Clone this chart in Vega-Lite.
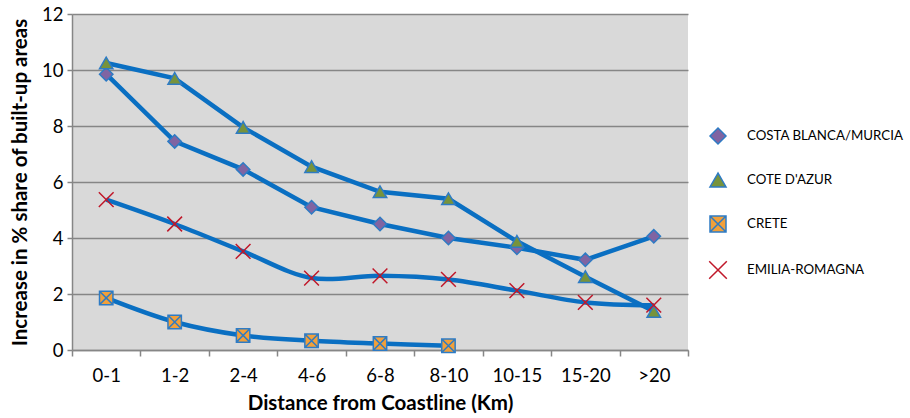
{
  "$schema": "https://vega.github.io/schema/vega-lite/v6.json",
  "width": 616,
  "height": 336,
  "autosize": {"type": "none"},
  "padding": {"left": 72, "top": 14, "right": 222, "bottom": 68},
  "background": "white",
  "config": {
    "view": {"fill": "#D9D9D9", "stroke": null},
    "font": "Lato",
    "axis": {"domainColor": "#868686", "tickColor": "#868686", "labelColor": "#000000", "titleColor": "#000000", "labelFont": "Lato", "titleFont": "Lato"},
    "legend": {
      "orient": "none",
      "legendX": 637,
      "legendY": 113,
      "symbolSize": 256,
      "labelOffset": 20,
      "rowPadding": 23,
      "labelFontSize": 13.3,
      "labelFont": "Lato",
      "labelColor": "#000000",
      "labelLimit": 300
    }
  },
  "data": {
    "values": [
      {"series": "COSTA BLANCA/MURCIA", "dist": "0-1", "value": 9.85},
      {"series": "COSTA BLANCA/MURCIA", "dist": "1-2", "value": 7.45},
      {"series": "COSTA BLANCA/MURCIA", "dist": "2-4", "value": 6.45},
      {"series": "COSTA BLANCA/MURCIA", "dist": "4-6", "value": 5.1},
      {"series": "COSTA BLANCA/MURCIA", "dist": "6-8", "value": 4.5},
      {"series": "COSTA BLANCA/MURCIA", "dist": "8-10", "value": 4.0},
      {"series": "COSTA BLANCA/MURCIA", "dist": "10-15", "value": 3.65},
      {"series": "COSTA BLANCA/MURCIA", "dist": "15-20", "value": 3.22},
      {"series": "COSTA BLANCA/MURCIA", "dist": ">20", "value": 4.06},
      {"series": "COTE D'AZUR", "dist": "0-1", "value": 10.25},
      {"series": "COTE D'AZUR", "dist": "1-2", "value": 9.7},
      {"series": "COTE D'AZUR", "dist": "2-4", "value": 7.95},
      {"series": "COTE D'AZUR", "dist": "4-6", "value": 6.55},
      {"series": "COTE D'AZUR", "dist": "6-8", "value": 5.65},
      {"series": "COTE D'AZUR", "dist": "8-10", "value": 5.4},
      {"series": "COTE D'AZUR", "dist": "10-15", "value": 3.88},
      {"series": "COTE D'AZUR", "dist": "15-20", "value": 2.62},
      {"series": "COTE D'AZUR", "dist": ">20", "value": 1.38},
      {"series": "CRETE", "dist": "0-1", "value": 1.86},
      {"series": "CRETE", "dist": "1-2", "value": 1.0},
      {"series": "CRETE", "dist": "2-4", "value": 0.52},
      {"series": "CRETE", "dist": "4-6", "value": 0.33},
      {"series": "CRETE", "dist": "6-8", "value": 0.23},
      {"series": "CRETE", "dist": "8-10", "value": 0.15},
      {"series": "EMILIA-ROMAGNA", "dist": "0-1", "value": 5.37},
      {"series": "EMILIA-ROMAGNA", "dist": "1-2", "value": 4.5},
      {"series": "EMILIA-ROMAGNA", "dist": "2-4", "value": 3.52},
      {"series": "EMILIA-ROMAGNA", "dist": "4-6", "value": 2.57},
      {"series": "EMILIA-ROMAGNA", "dist": "6-8", "value": 2.65},
      {"series": "EMILIA-ROMAGNA", "dist": "8-10", "value": 2.52},
      {"series": "EMILIA-ROMAGNA", "dist": "10-15", "value": 2.12},
      {"series": "EMILIA-ROMAGNA", "dist": "15-20", "value": 1.7},
      {"series": "EMILIA-ROMAGNA", "dist": ">20", "value": 1.6}
    ]
  },
  "encoding": {
    "x": {
      "field": "dist",
      "type": "ordinal",
      "scale": {"domain": ["0-1", "1-2", "2-4", "4-6", "6-8", "8-10", "10-15", "15-20", ">20"], "paddingInner": 0, "paddingOuter": 0},
      "axis": {
        "title": "Distance from Coastline (Km)",
        "titleFontSize": 20.5,
        "titleFontWeight": "bold",
        "titlePadding": 9,
        "labelFontSize": 18.5,
        "labelAngle": 0,
        "labelPadding": 10,
        "tickBand": "extent",
        "tickSize": 6,
        "tickWidth": 1.5,
        "domainWidth": 1.5,
        "grid": false
      }
    },
    "y": {
      "field": "value",
      "type": "quantitative",
      "scale": {"domain": [0, 12], "nice": false},
      "axis": {
        "title": "Increase in % share of built-up areas",
        "titleFontSize": 20.5,
        "titleFontWeight": "bold",
        "titlePadding": 11,
        "labelFontSize": 18.5,
        "labelPadding": 4,
        "values": [0, 2, 4, 6, 8, 10, 12],
        "tickSize": 5,
        "tickWidth": 1.5,
        "domainWidth": 1.5,
        "grid": true,
        "gridColor": "#868686",
        "gridWidth": 1.5
      }
    }
  },
  "layer": [
    {
      "transform": [{"filter": "datum.series == 'COSTA BLANCA/MURCIA' || datum.series == \"COTE D'AZUR\""}],
      "mark": {"type": "line", "interpolate": "linear", "color": "#0A6FC2", "strokeWidth": 4.5},
      "encoding": {"detail": {"field": "series"}}
    },
    {
      "transform": [{"filter": "datum.series == 'CRETE' || datum.series == 'EMILIA-ROMAGNA'"}],
      "mark": {"type": "line", "interpolate": "catmull-rom", "color": "#0A6FC2", "strokeWidth": 4.5},
      "encoding": {"detail": {"field": "series"}}
    },
    {
      "mark": {"type": "point", "size": 180, "strokeWidth": 1.5, "opacity": 1, "fillOpacity": 1},
      "encoding": {
        "shape": {
          "field": "series",
          "type": "nominal",
          "scale": {
            "domain": ["COSTA BLANCA/MURCIA", "COTE D'AZUR", "CRETE", "EMILIA-ROMAGNA"],
            "range": ["diamond", "triangle-up", "M-1,-1H1V1H-1ZM-1,-1L1,1M1,-1L-1,1", "M-1.1,-1.1L1.1,1.1M1.1,-1.1L-1.1,1.1"]
          },
          "legend": {
            "title": null,
            "encode": {
              "symbols": {
                "shape": {"value": {"signal": "indexOf(datum.value, 'BLANCA') >= 0 ? 'M-2,0H-0.55M0.55,0H2M0,-0.6L0.55,0L0,0.6L-0.55,0Z' : indexOf(datum.value, 'AZUR') >= 0 ? 'M-2,0H-0.55M0.55,0H2M0,-0.55L0.6,0.45L-0.6,0.45Z' : indexOf(datum.value, 'CRETE') >= 0 ? 'M-2,0H-0.5M0.5,0H2M-0.5,-0.5H0.5V0.5H-0.5ZM-0.5,-0.5L0.5,0.5M0.5,-0.5L-0.5,0.5' : 'M-2,0H2M-0.5,-0.5L0.5,0.5M0.5,-0.5L-0.5,0.5'"}},
                "strokeWidth": {"value": 3}
              }
            }
          }
        },
        "fill": {
          "field": "series",
          "type": "nominal",
          "scale": {
            "domain": ["COSTA BLANCA/MURCIA", "COTE D'AZUR", "CRETE", "EMILIA-ROMAGNA"],
            "range": ["#8064A2", "#77933C", "#F2A03A", "transparent"]
          },
          "legend": {
            "title": null,
            "encode": {
              "symbols": {
                "shape": {"value": {"signal": "indexOf(datum.value, 'BLANCA') >= 0 ? 'M-2,0H-0.55M0.55,0H2M0,-0.6L0.55,0L0,0.6L-0.55,0Z' : indexOf(datum.value, 'AZUR') >= 0 ? 'M-2,0H-0.55M0.55,0H2M0,-0.55L0.6,0.45L-0.6,0.45Z' : indexOf(datum.value, 'CRETE') >= 0 ? 'M-2,0H-0.5M0.5,0H2M-0.5,-0.5H0.5V0.5H-0.5ZM-0.5,-0.5L0.5,0.5M0.5,-0.5L-0.5,0.5' : 'M-2,0H2M-0.5,-0.5L0.5,0.5M0.5,-0.5L-0.5,0.5'"}},
                "strokeWidth": {"value": 3}
              }
            }
          }
        },
        "stroke": {
          "field": "series",
          "type": "nominal",
          "scale": {
            "domain": ["COSTA BLANCA/MURCIA", "COTE D'AZUR", "CRETE", "EMILIA-ROMAGNA"],
            "range": ["#2E7BC4", "#2E7BC4", "#2E7BC4", "#C0182A"]
          },
          "legend": {
            "title": null,
            "encode": {
              "symbols": {
                "shape": {"value": {"signal": "indexOf(datum.value, 'BLANCA') >= 0 ? 'M-2,0H-0.55M0.55,0H2M0,-0.6L0.55,0L0,0.6L-0.55,0Z' : indexOf(datum.value, 'AZUR') >= 0 ? 'M-2,0H-0.55M0.55,0H2M0,-0.55L0.6,0.45L-0.6,0.45Z' : indexOf(datum.value, 'CRETE') >= 0 ? 'M-2,0H-0.5M0.5,0H2M-0.5,-0.5H0.5V0.5H-0.5ZM-0.5,-0.5L0.5,0.5M0.5,-0.5L-0.5,0.5' : 'M-2,0H2M-0.5,-0.5L0.5,0.5M0.5,-0.5L-0.5,0.5'"}},
                "strokeWidth": {"value": 3}
              }
            }
          }
        }
      }
    }
  ]
}
